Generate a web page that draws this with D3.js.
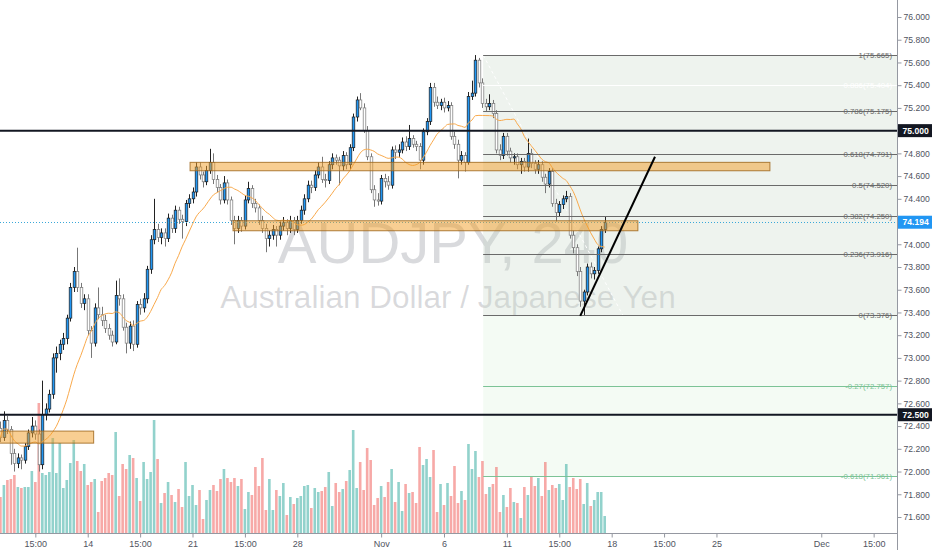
<!DOCTYPE html>
<html><head><meta charset="utf-8">
<script src="https://cdn.jsdelivr.net/npm/d3@7"></script>
<style>
html,body{margin:0;padding:0;background:#fff;overflow:hidden;}
svg{display:block;font-family:"Liberation Sans",Arial,sans-serif;}
</style></head><body>
<svg id="chart" width="932" height="550"></svg>
<script>
// ---------- DATA (AUDJPY, 4h candles) ----------
const open = [72.38,72.30,72.45,72.37,72.16,72.07,72.12,72.10,72.22,72.34,72.40,72.33,72.06,72.50,72.55,72.68,73.00,73.04,73.12,73.17,
73.35,73.62,73.76,73.62,73.48,73.52,73.24,73.13,73.44,73.38,73.33,73.26,73.20,73.14,73.55,73.52,73.27,73.13,73.28,73.12,
73.47,73.44,73.52,73.78,74.04,74.13,74.06,74.10,74.05,74.23,74.14,74.30,74.22,74.20,74.36,74.40,74.46,74.68,74.61,74.55,
74.65,74.72,74.57,74.50,74.39,74.54,74.39,74.21,74.14,74.21,74.16,74.39,74.49,74.36,74.32,74.21,74.14,74.05,74.08,74.13,
74.08,74.16,74.19,74.14,74.21,74.13,74.21,74.30,74.40,74.52,74.50,74.61,74.68,74.57,74.56,74.70,74.76,74.74,74.69,74.78,
74.70,74.85,75.12,75.27,75.20,75.00,74.77,74.48,74.39,74.38,74.58,74.55,74.52,74.83,74.81,74.83,74.90,74.86,74.93,74.88,
74.86,74.74,74.99,75.08,75.38,75.25,75.22,75.25,75.20,75.22,74.95,74.88,74.74,74.78,74.72,75.30,75.33,75.62,75.42,75.24,
75.21,75.24,75.15,74.83,74.78,74.95,74.82,74.76,74.77,74.70,74.73,74.68,74.80,74.71,74.66,74.70,74.59,74.53,74.64,74.36,
74.28,74.35,74.40,74.42,74.08,73.97,73.76,73.50,73.58,73.80,73.74,73.77,73.96,74.13];
const high = [72.44,72.53,72.49,72.40,72.20,72.16,72.15,72.25,72.37,72.48,72.45,72.37,72.80,72.60,72.72,73.04,73.10,73.16,73.22,73.38,
73.66,73.80,73.97,73.66,73.56,73.56,73.28,73.48,73.62,73.45,73.38,73.30,73.24,73.68,73.70,73.56,73.31,73.32,73.33,73.50,
73.52,73.57,73.81,74.08,74.40,74.18,74.14,74.14,74.27,74.26,74.34,74.33,74.26,74.39,74.44,74.50,74.72,74.72,74.64,74.69,
74.84,74.80,74.61,74.53,74.60,74.57,74.42,74.25,74.25,74.24,74.43,74.55,74.52,74.40,74.35,74.25,74.18,74.12,74.17,74.16,
74.20,74.24,74.22,74.25,74.24,74.25,74.34,74.44,74.56,74.56,74.65,74.72,74.77,74.62,74.73,74.80,74.79,74.77,74.82,74.81,
74.88,75.15,75.30,75.33,75.24,75.04,74.80,74.52,74.45,74.61,74.62,74.60,74.86,74.87,74.88,74.94,74.95,75.05,74.96,74.91,
74.89,75.02,75.11,75.42,75.42,75.30,75.28,75.29,75.26,75.25,74.99,74.92,74.82,74.81,75.34,75.44,75.665,75.64,75.46,75.28,
75.32,75.27,75.18,74.88,74.98,74.98,74.85,74.80,74.80,74.76,74.76,74.93,74.84,74.74,74.74,74.73,74.62,74.67,74.67,74.40,
74.38,74.43,74.47,74.45,74.12,74.00,73.80,73.60,73.83,73.84,73.80,73.98,74.16,74.24];
const low = [72.26,72.27,72.33,72.06,72.00,72.03,72.02,72.07,72.19,72.30,72.28,72.00,72.02,72.45,72.52,72.64,72.87,72.98,73.07,73.12,
73.32,73.58,73.58,73.44,73.42,73.20,73.00,73.10,73.34,73.28,73.22,73.16,73.10,73.12,73.46,73.24,73.04,73.08,73.06,73.09,
73.38,73.40,73.48,73.74,74.00,74.02,74.00,73.98,74.02,74.10,74.10,74.18,74.05,74.16,74.32,74.36,74.42,74.57,74.50,74.52,
74.62,74.53,74.46,74.35,74.36,74.35,74.17,74.00,74.10,74.11,74.13,74.36,74.32,74.28,74.17,74.10,73.93,73.98,74.04,73.98,
74.04,74.12,74.08,74.10,74.08,74.10,74.18,74.26,74.37,74.45,74.47,74.58,74.54,74.50,74.53,74.66,74.70,74.52,74.65,74.66,
74.66,74.82,75.08,75.18,74.98,74.74,74.45,74.33,74.34,74.35,74.50,74.48,74.49,74.75,74.77,74.80,74.82,74.83,74.85,74.82,
74.66,74.70,74.96,75.05,75.21,75.19,75.18,75.16,75.17,74.92,74.84,74.58,74.70,74.64,74.70,75.27,75.30,75.38,75.20,75.17,
75.18,75.11,74.80,74.74,74.75,74.78,74.72,74.70,74.66,74.62,74.64,74.64,74.67,74.62,74.62,74.55,74.45,74.50,74.33,74.20,
74.24,74.31,74.37,74.05,73.92,73.72,73.45,73.376,73.55,73.70,73.69,73.74,73.93,74.10];
const close = [72.30,72.45,72.37,72.16,72.07,72.12,72.10,72.22,72.34,72.40,72.33,72.06,72.50,72.55,72.68,73.00,73.04,73.12,73.17,73.35,
73.62,73.76,73.62,73.48,73.52,73.24,73.13,73.44,73.38,73.33,73.26,73.20,73.14,73.55,73.52,73.27,73.13,73.28,73.12,73.47,
73.44,73.52,73.78,74.04,74.13,74.06,74.10,74.05,74.23,74.14,74.30,74.22,74.20,74.36,74.40,74.46,74.68,74.61,74.55,74.65,
74.72,74.57,74.50,74.39,74.54,74.39,74.21,74.14,74.21,74.16,74.39,74.49,74.36,74.32,74.21,74.14,74.05,74.08,74.13,74.08,
74.16,74.19,74.14,74.21,74.13,74.21,74.30,74.40,74.52,74.50,74.61,74.68,74.57,74.56,74.70,74.76,74.74,74.69,74.78,74.70,
74.85,75.12,75.27,75.20,75.00,74.77,74.48,74.39,74.38,74.58,74.55,74.52,74.83,74.81,74.83,74.90,74.86,74.93,74.88,74.86,
74.74,74.99,75.08,75.38,75.25,75.22,75.25,75.20,75.22,74.95,74.88,74.74,74.78,74.72,75.30,75.33,75.62,75.42,75.24,75.21,
75.24,75.15,74.83,74.78,74.95,74.82,74.76,74.77,74.70,74.73,74.68,74.80,74.71,74.66,74.70,74.59,74.53,74.64,74.36,74.28,
74.35,74.40,74.42,74.08,73.97,73.76,73.50,73.58,73.80,73.74,73.77,73.96,74.13,74.194];
const volume = [36,48,53,54,58,46,45,46,46,62,51,130,60,58,61,95,60,90,45,53,
70,93,72,62,69,48,51,54,21,52,55,60,58,101,37,69,64,78,75,55,
32,71,54,61,113,74,30,40,51,38,31,44,26,71,37,48,28,43,14,33,
43,48,42,54,64,55,51,55,47,54,24,41,38,66,47,75,23,54,23,43,
37,50,18,36,29,35,37,47,48,25,45,41,42,46,61,27,50,41,44,52,
63,103,45,71,43,85,73,28,35,47,36,51,64,31,51,22,49,40,41,30,
86,68,74,56,83,21,49,28,50,37,67,30,42,33,89,64,82,56,72,39,
46,49,66,21,38,26,45,31,30,15,46,38,56,47,55,37,71,43,48,45,
49,33,69,46,55,44,54,29,50,27,33,41,41,17];
const maPeriod = 14;

const xTickIndex = [10,25,40,55,70,85,109,127,145,160,175,190,205,235,250];
const xTickLabels = ["15:00","14","15:00","21","15:00","28","Nov","6","11","15:00","18","15:00","25","Dec","15:00"];
const priceTicks = [71.6,71.8,72.0,72.2,72.4,72.6,72.8,73.0,73.2,73.4,73.6,73.8,74.0,74.2,74.4,74.6,74.8,75.0,75.2,75.4,75.6,75.8,76.0];

const fibLevels = ["1","0.886","0.786","0.618","0.5","0.382","0.236","0","-0.27","-0.618"];
const fibPrices = [75.665,75.404,75.175,74.791,74.520,74.250,73.916,73.376,72.757,71.961];
const fibStartIndex = 138.2, fibEndIndex = 178.2;

const levelPrices = [75.000, 72.500];
const lastPrice = 74.194;

const zoneStart = [54.3, 66.6, -5];
const zoneEnd = [220.3, 182.5, 26.7];
const zoneTop = [74.721, 74.207, 72.356];
const zoneBottom = [74.647, 74.119, 72.250];

const trendIndex = [166.0, 187.4];
const trendPrice = [73.37, 74.77];

// ---------- LAYOUT ----------
const W = 932, H = 550, plotR = 897, plotB = 533;
const svg = d3.select("#chart");
const x = d3.scaleLinear().domain([0, 256]).range([0.4, 0.4 + 3.493 * 256]);
const y = d3.scaleLinear().domain([71.6, 76.0]).range([517, 17]);
const yVol = d3.scaleLinear().domain([0, 100]).range([plotB, plotB - 100]);

svg.append("rect").attr("width", W).attr("height", H).attr("fill", "#fff");
svg.append("defs").append("clipPath").attr("id", "clip")
  .append("rect").attr("x", 0).attr("y", 0).attr("width", plotR).attr("height", plotB);
const g = svg.append("g").attr("clip-path", "url(#clip)");

// watermark
g.append("text").attr("x", 453).attr("y", 263).attr("text-anchor", "middle")
  .attr("font-size", 58).attr("fill", "rgba(120,123,134,0.28)").text("AUDJPY, 240");
g.append("text").attr("x", 448).attr("y", 308).attr("text-anchor", "middle")
  .attr("font-size", 31.5).attr("fill", "rgba(120,123,134,0.28)").text("Australian Dollar / Japanese Yen");

// fib fills
const fx0 = x(fibStartIndex);
g.append("rect").attr("x", fx0).attr("y", y(fibPrices[0])).attr("width", plotR - fx0)
  .attr("height", y(fibPrices[7]) - y(fibPrices[0])).attr("fill", "rgba(200,215,200,0.30)");
g.append("rect").attr("x", fx0).attr("y", y(fibPrices[7])).attr("width", plotR - fx0)
  .attr("height", y(fibPrices[9]) - y(fibPrices[7])).attr("fill", "rgba(205,235,205,0.22)");
g.append("line").attr("x1", fx0).attr("y1", y(fibPrices[0])).attr("x2", x(fibEndIndex)).attr("y2", y(fibPrices[7]))
  .attr("stroke", "#fff").attr("stroke-width", 1).attr("stroke-dasharray", "3,3");

// volume
const up = i => close[i] >= open[i];
g.append("g").selectAll("rect").data(volume).join("rect")
  .attr("x", (d, i) => x(i) - 1.3).attr("width", 2.6)
  .attr("y", d => yVol(d)).attr("height", d => plotB - yVol(d))
  .attr("fill", (d, i) => up(i) ? "rgba(38,166,154,0.5)" : "rgba(239,83,80,0.5)");

// candles
const cg = g.append("g");
close.forEach((c, i) => {
  const cx = Math.round(x(i)) + 0.5;
  const isUp = up(i);
  cg.append("line").attr("x1", cx).attr("x2", cx).attr("y1", y(high[i])).attr("y2", y(low[i]))
    .attr("stroke", isUp ? "#222" : "#777").attr("stroke-width", 1);
  const top = y(Math.max(open[i], c)), bot = y(Math.min(open[i], c));
  cg.append("rect").attr("x", cx - 1.3).attr("width", 2.6).attr("y", top).attr("height", Math.max(0.8, bot - top))
    .attr("fill", isUp ? "#2196f3" : "#fff").attr("stroke", isUp ? "#1b1b1b" : "#777").attr("stroke-width", 0.7);
});

// moving average of closes
const ma = close.map((c, i) => d3.mean(close.slice(Math.max(0, i - maPeriod + 1), i + 1)));
g.append("path").datum(ma).attr("fill", "none").attr("stroke", "#f9a94b").attr("stroke-width", 1)
  .attr("d", d3.line().x((d, i) => x(i)).y(d => y(d)).curve(d3.curveMonotoneX));

// fib lines + labels
fibLevels.forEach((lv, k) => {
  const yy = Math.round(y(fibPrices[k])) + 0.5;
  const col = k === 1 ? "#ffffff" : (k >= 8 ? "#7cc396" : "#6a6a6a");
  g.append("line").attr("x1", fx0).attr("x2", plotR).attr("y1", yy).attr("y2", yy).attr("stroke", col).attr("stroke-width", 1);
  g.append("text").attr("x", 892).attr("y", yy).attr("dy", "0.35em").attr("text-anchor", "end")
    .attr("font-size", 7.8).attr("fill", col).text(lv + "(" + fibPrices[k].toFixed(3) + ")");
});

// horizontal levels
levelPrices.forEach(p => {
  g.append("line").attr("x1", 0).attr("x2", plotR).attr("y1", y(p)).attr("y2", y(p))
    .attr("stroke", "#131722").attr("stroke-width", 2);
});
g.append("line").attr("x1", 0).attr("x2", plotR).attr("y1", Math.round(y(lastPrice)) + 0.5).attr("y2", Math.round(y(lastPrice)) + 0.5)
  .attr("stroke", "#3aa8d8").attr("stroke-width", 1).attr("stroke-dasharray", "1,2");

// zones
zoneStart.forEach((s, k) => {
  g.append("rect").attr("x", x(s)).attr("width", x(zoneEnd[k]) - x(s))
    .attr("y", y(zoneTop[k])).attr("height", y(zoneBottom[k]) - y(zoneTop[k]))
    .attr("fill", "rgba(242,158,38,0.5)").attr("stroke", "rgba(160,105,30,0.85)").attr("stroke-width", 1);
});

// trend line
g.append("line").attr("x1", x(trendIndex[0])).attr("y1", y(trendPrice[0]))
  .attr("x2", x(trendIndex[1])).attr("y2", y(trendPrice[1]))
  .attr("stroke", "#000").attr("stroke-width", 2);

// ---------- AXES ----------
const axisCol = "#9598a1", txtCol = "#50535e";
const yAxis = svg.append("g").attr("transform", `translate(${plotR + 0.5},0)`)
  .call(d3.axisRight(y).tickValues(priceTicks).tickFormat(d3.format(".3f")).tickSize(4).tickPadding(2));
yAxis.select(".domain").remove();
yAxis.selectAll("line").attr("stroke", axisCol);
yAxis.selectAll("text").attr("fill", txtCol).attr("font-size", 8.6).attr("font-family", "Liberation Sans, Arial, sans-serif");
svg.append("line").attr("x1", plotR + 0.5).attr("x2", plotR + 0.5).attr("y1", 0).attr("y2", H).attr("stroke", axisCol);

const tickMap = new Map(xTickIndex.map((t, k) => [t, xTickLabels[k]]));
const xAxis = svg.append("g").attr("transform", `translate(0,${plotB + 0.5})`)
  .call(d3.axisBottom(x).tickValues(xTickIndex).tickFormat(d => tickMap.get(d)).tickSize(4).tickPadding(3));
xAxis.select(".domain").remove();
xAxis.selectAll("line").attr("stroke", axisCol);
xAxis.selectAll("text").attr("fill", txtCol).attr("font-size", 9).attr("font-family", "Liberation Sans, Arial, sans-serif");
svg.append("line").attr("x1", 0).attr("x2", plotR + 0.5).attr("y1", plotB + 0.5).attr("y2", plotB + 0.5).attr("stroke", axisCol);

// price label boxes
function priceBox(p, bg) {
  const yy = y(p);
  svg.append("rect").attr("x", plotR + 1).attr("y", yy - 6.5).attr("width", W - plotR - 1).attr("height", 13).attr("fill", bg);
  svg.append("text").attr("x", plotR + 5.5).attr("y", yy).attr("dy", "0.35em").attr("font-size", 8.6)
    .attr("font-weight", "bold").attr("fill", "#fff").text(p.toFixed(3));
}
levelPrices.forEach(p => priceBox(p, "#131722"));
priceBox(lastPrice, "#2196f3");
</script>
</body></html>
